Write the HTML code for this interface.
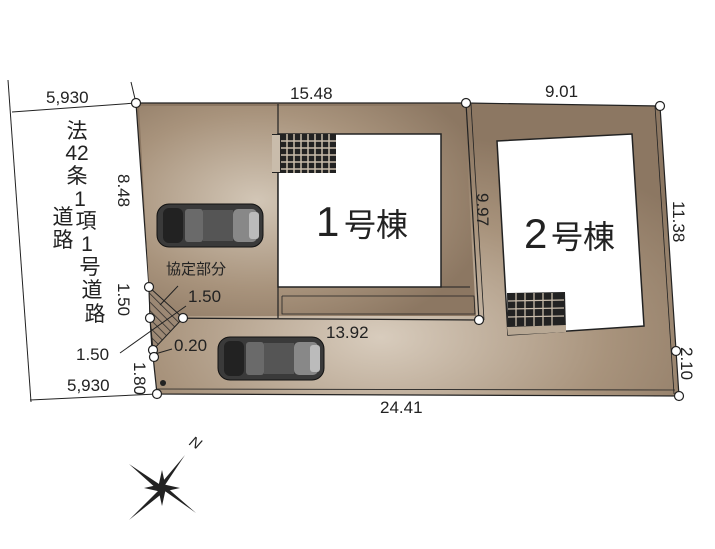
<!DOCTYPE html>
<html><head><meta charset="utf-8"><style>
html,body{margin:0;padding:0;background:#fff}
svg{display:block}
text{font-family:"Liberation Sans","Noto Sans CJK JP",sans-serif;fill:#222}
</style></head><body>
<svg width="715" height="549" viewBox="0 0 715 549" xmlns="http://www.w3.org/2000/svg">
<defs>
<radialGradient id="g1" cx="0.35" cy="0.45" r="0.7">
<stop offset="0" stop-color="#d2c6b6"/><stop offset="0.6" stop-color="#a8937c"/><stop offset="1" stop-color="#8c7762"/>
</radialGradient>
<radialGradient id="g2" cx="0.45" cy="0.8" r="0.7">
<stop offset="0" stop-color="#d8ccbd"/><stop offset="0.6" stop-color="#a8937c"/><stop offset="1" stop-color="#8c7762"/>
</radialGradient>
<pattern id="hat" width="6" height="6" patternUnits="userSpaceOnUse" patternTransform="rotate(-45)">
<rect width="6" height="6" fill="#9c8874"/><line x1="0" y1="0" x2="0" y2="6" stroke="#222" stroke-width="1.4"/>
</pattern>
<g id="car">
<rect x="0" y="0" width="106" height="43" rx="12" fill="#3a3a3a" stroke="#111"/>
<rect x="6" y="4" width="20" height="35" rx="6" fill="#222"/>
<rect x="28" y="5" width="18" height="33" rx="3" fill="#6a6a6a"/>
<rect x="46" y="6" width="30" height="31" fill="#555"/>
<rect x="76" y="5" width="24" height="33" rx="5" fill="#888"/>
<rect x="92" y="8" width="10" height="27" rx="3" fill="#bbb"/>
</g>
</defs>
<line x1="8" y1="80" x2="31" y2="402" stroke="#222" stroke-width="1"/>
<line x1="131" y1="82" x2="136" y2="103" stroke="#222"/>
<line x1="12" y1="112" x2="136" y2="103" stroke="#222"/>
<line x1="30" y1="400" x2="157" y2="394" stroke="#222"/>
<polygon points="136,103 466,103 660,106 679,396 157,394 153,356 152,350 150,318 149,287" fill="url(#g2)" stroke="#222" stroke-width="1.2"/>
<polygon points="139,106 464,106 476,316 151,316 149,287" fill="url(#g1)"/>
<polyline points="150,318 479,320" stroke="#222" fill="none" stroke-width="1.2"/>
<polyline points="466,103 479,320" stroke="#222" fill="none" stroke-width="1.2"/>
<polyline points="471,104 484,320" stroke="#222" fill="none" stroke-width="0.8"/>
<polyline points="655,106 674,394" stroke="#222" fill="none" stroke-width="0.8"/>
<polyline points="157,389 675,390" stroke="#222" fill="none" stroke-width="0.8"/>
<line x1="278" y1="104" x2="278" y2="318" stroke="#222" stroke-width="1.2"/>
<polyline points="278,287 470,287" stroke="#222" fill="none"/>
<polyline points="282,296 474,296 475,314 282,314 282,296" stroke="#222" fill="none" stroke-width="0.8"/>
<rect x="278" y="134" width="163" height="153" fill="#fff" stroke="#222" stroke-width="1.5"/>
<rect x="272" y="134" width="64" height="39" fill="#222"/>
<rect x="272" y="135" width="8" height="37" fill="#c9bcab"/>
<g stroke="#c9bcab" stroke-width="1.5">
<line x1="287" y1="134" x2="287" y2="173"/><line x1="294" y1="134" x2="294" y2="173"/><line x1="301" y1="134" x2="301" y2="173"/><line x1="308" y1="134" x2="308" y2="173"/><line x1="315" y1="134" x2="315" y2="173"/><line x1="322" y1="134" x2="322" y2="173"/><line x1="329" y1="134" x2="329" y2="173"/>
<line x1="281" y1="141" x2="336" y2="141"/><line x1="281" y1="148" x2="336" y2="148"/><line x1="281" y1="155" x2="336" y2="155"/><line x1="281" y1="162" x2="336" y2="162"/><line x1="281" y1="169" x2="336" y2="169"/>
</g>
<text x="316" y="236" font-size="42">1</text><text x="344" y="236" font-size="32">号棟</text>
<polygon points="497,141 632,134 644,326 508,335" fill="#fff" stroke="#222" stroke-width="1.5"/>
<polygon points="507,293 565,292 566,332 508,335" fill="#222"/>
<polygon points="507,327 566,325 566,332 508,335" fill="#b8a894"/>
<g stroke="#c9bcab" stroke-width="1.3">
<line x1="516" y1="293" x2="516" y2="326"/><line x1="525" y1="293" x2="525" y2="326"/><line x1="534" y1="293" x2="534" y2="326"/><line x1="543" y1="293" x2="543" y2="326"/><line x1="552" y1="293" x2="552" y2="326"/>
<line x1="508" y1="301" x2="564" y2="300"/><line x1="508" y1="309" x2="564" y2="308"/><line x1="508" y1="317" x2="564" y2="316"/>
</g>
<text x="524" y="248" font-size="42">2</text><text x="551" y="248" font-size="32">号棟</text>
<use href="#car" x="157" y="204"/>
<use href="#car" x="218" y="337"/>
<polygon points="149,287 183,318 153,350 150,318" fill="url(#hat)" stroke="#222"/>
<line x1="120" y1="353" x2="186" y2="306" stroke="#222"/>
<line x1="160" y1="305" x2="178" y2="286" stroke="#222"/>
<line x1="155" y1="354" x2="172" y2="349" stroke="#222"/>
<g fill="#fff" stroke="#222" stroke-width="1.2">
<circle cx="136" cy="103" r="4.5"/><circle cx="466" cy="103" r="4.5"/><circle cx="660" cy="106" r="4.5"/>
<circle cx="479" cy="320" r="4.5"/><circle cx="676" cy="351" r="4.5"/><circle cx="679" cy="396" r="4.5"/>
<circle cx="157" cy="394" r="4.5"/><circle cx="149" cy="287" r="4.5"/><circle cx="150" cy="318" r="4.5"/>
<circle cx="183" cy="318" r="4.5"/><circle cx="153" cy="350" r="4.5"/><circle cx="154" cy="357" r="4.5"/>
</g>
<circle cx="163" cy="383" r="3" fill="#222"/>
<g font-size="17">
<text x="46" y="103">5,930</text>
<text x="67" y="391">5,930</text>
<text x="290" y="99">15.48</text>
<text x="545" y="97">9.01</text>
<text x="326" y="338">13.92</text>
<text x="380" y="413">24.41</text>
<text x="188" y="302">1.50</text>
<text x="76" y="360">1.50</text>
<text x="174" y="351">0.20</text>
<text transform="translate(118,174) rotate(90)">8.48</text>
<text transform="translate(118,283) rotate(90)">1.50</text>
<text transform="translate(134,362) rotate(90)">1.80</text>
<text transform="translate(477,193) rotate(90)">9.97</text>
<text transform="translate(673,201) rotate(90)">11.38</text>
<text transform="translate(681,347) rotate(90)">2.10</text>
<text x="166" y="274" font-size="15">協定部分</text>
</g>
<g font-size="21" text-anchor="middle">
<text x="77" y="138">法</text><text x="77" y="160">42</text><text x="77" y="183">条</text><text x="80" y="206">1</text>
<text x="86" y="228">項</text><text x="87" y="251">1</text><text x="90" y="274">号</text><text x="92" y="297">道</text><text x="95" y="321">路</text>
<text x="63" y="224">道</text><text x="63" y="247">路</text>
</g>
<g fill="#222">
<polygon points="185,455 165,485 160,490 158,487"/>
<polygon points="129,520 159,490 164,492"/>
<polygon points="129,464 162,486 158,490"/>
<polygon points="196,513 162,489 165,486"/>
<polygon points="162,470 166,488 158,488"/>
<polygon points="162,506 158,488 166,488"/>
<polygon points="144,488 162,484 162,492"/>
<polygon points="180,488 162,484 162,492"/>
</g>
<text x="190" y="448" font-size="15" font-style="italic" font-family="Liberation Serif,serif" transform="rotate(30 196 443)">N</text>
</svg>
</body></html>
